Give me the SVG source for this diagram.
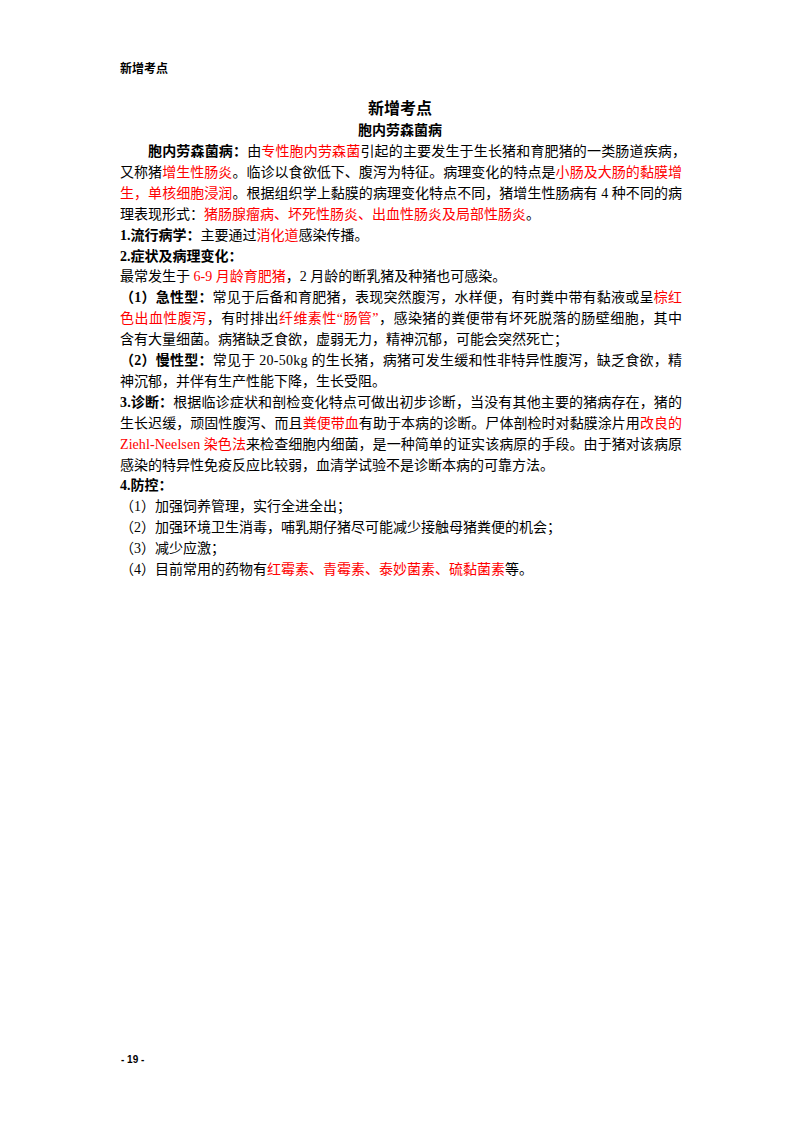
<svg xmlns="http://www.w3.org/2000/svg" width="800" height="1132" viewBox="0 0 800 1132">
<style>
text{font-family:"Liberation Serif","Noto Sans CJK SC",serif;font-size:14px;fill:#000;}
.b{font-weight:bold;}
.r{fill:#ff0000;}
.hd{font-size:12px;font-weight:bold;}
.t1{font-size:16px;font-weight:bold;}
.t2{font-size:14px;font-weight:bold;}
.pg{font-family:"Liberation Sans","Noto Sans",sans-serif;font-size:10px;font-weight:bold;}
</style>
<rect width="800" height="1132" fill="#ffffff"/>
<g id="header">
<text class="hd" x="120" y="73">新增考点</text>
</g>
<g id="title">
<text class="t1" x="400" y="114" text-anchor="middle">新增考点</text>
<text class="t2" x="400" y="135" text-anchor="middle">胞内劳森菌病</text>
</g>
<g id="intro">
<text x="148" y="156" textLength="538" lengthAdjust="spacing"><tspan class="b">胞内劳森菌病：</tspan>由<tspan class="r">专性胞内劳森菌</tspan>引起的主要发生于生长猪和育肥猪的一类肠道疾病，</text>
<text x="120" y="176.9" textLength="562" lengthAdjust="spacing">又称猪<tspan class="r">增生性肠炎</tspan>。临诊以食欲低下、腹泻为特征。病理变化的特点是<tspan class="r">小肠及大肠的黏膜增</tspan></text>
<text x="120" y="197.8" textLength="562" lengthAdjust="spacing"><tspan class="r">生，单核细胞浸润</tspan>。根据组织学上黏膜的病理变化特点不同，猪增生性肠病有 4 种不同的病</text>
<text x="120" y="218.7" textLength="420" lengthAdjust="spacing">理表现形式：<tspan class="r">猪肠腺瘤病、坏死性肠炎、出血性肠炎及局部性肠炎</tspan>。</text>
</g>
<g id="section1">
<text x="120" y="239.6"><tspan class="b">1.流行病学：</tspan>主要通过<tspan class="r">消化道</tspan>感染传播。</text>
</g>
<g id="section2">
<text x="120" y="260.5" class="b">2.症状及病理变化：</text>
<text x="120" y="281.4">最常发生于 <tspan class="r">6-9 月龄育肥猪</tspan>，2 月龄的断乳猪及种猪也可感染。</text>
<text x="120" y="302.3" textLength="562" lengthAdjust="spacing"><tspan class="b">（1）急性型：</tspan>常见于后备和育肥猪，表现突然腹泻，水样便，有时粪中带有黏液或呈<tspan class="r">棕红</tspan></text>
<text x="120" y="323.2" textLength="562" lengthAdjust="spacing"><tspan class="r">色出血性腹泻</tspan>，有时排出<tspan class="r">纤维素性“肠管”</tspan>，感染猪的粪便带有坏死脱落的肠壁细胞，其中</text>
<text x="120" y="344.1">含有大量细菌。病猪缺乏食欲，虚弱无力，精神沉郁，可能会突然死亡；</text>
<text x="120" y="365" textLength="562" lengthAdjust="spacing"><tspan class="b">（2）慢性型：</tspan>常见于 20-50kg 的生长猪，病猪可发生缓和性非特异性腹泻，缺乏食欲，精</text>
<text x="120" y="385.9">神沉郁，并伴有生产性能下降，生长受阻。</text>
</g>
<g id="section3">
<text x="120" y="406.8" textLength="562" lengthAdjust="spacing"><tspan class="b">3.诊断：</tspan>根据临诊症状和剖检变化特点可做出初步诊断，当没有其他主要的猪病存在，猪的</text>
<text x="120" y="427.7" textLength="562" lengthAdjust="spacing">生长迟缓，顽固性腹泻、而且<tspan class="r">粪便带血</tspan>有助于本病的诊断。尸体剖检时对黏膜涂片用<tspan class="r">改良的</tspan></text>
<text x="120" y="448.6" textLength="562" lengthAdjust="spacing"><tspan class="r">Ziehl-Neelsen 染色法</tspan>来检查细胞内细菌，是一种简单的证实该病原的手段。由于猪对该病原</text>
<text x="120" y="469.5">感染的特异性免疫反应比较弱，血清学试验不是诊断本病的可靠方法。</text>
</g>
<g id="section4">
<text x="120" y="490.4" class="b">4.防控：</text>
<text x="120" y="511.3">（1）加强饲养管理，实行全进全出；</text>
<text x="120" y="532.2">（2）加强环境卫生消毒，哺乳期仔猪尽可能减少接触母猪粪便的机会；</text>
<text x="120" y="553.1">（3）减少应激；</text>
<text x="120" y="574">（4）目前常用的药物有<tspan class="r">红霉素、青霉素、泰妙菌素、硫黏菌素</tspan>等。</text>
</g>
<g id="footer">
<text class="pg" x="121" y="1063">- 19 -</text>
</g>
</svg>
